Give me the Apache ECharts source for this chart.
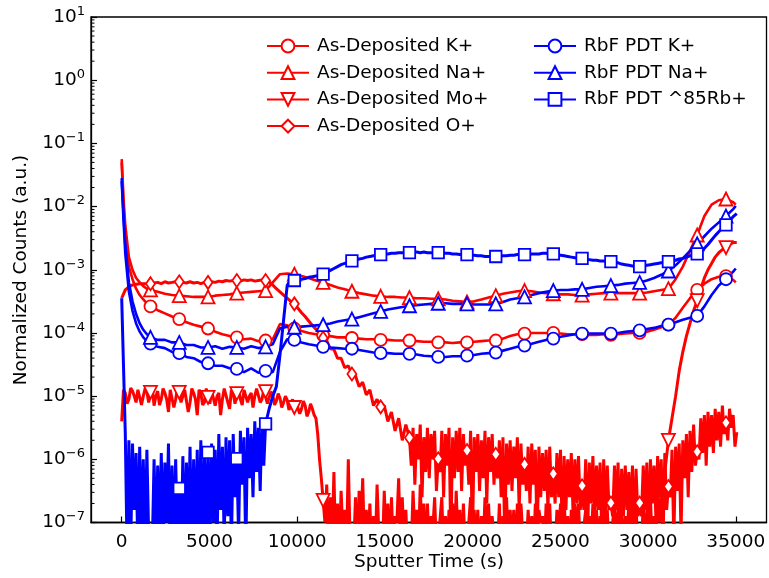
<!DOCTYPE html>
<html><head><meta charset="utf-8">
<script src="https://cdn.jsdelivr.net/npm/echarts@6/dist/echarts.min.js"></script>
<style>html,body{margin:0;padding:0;background:#fff}#c{width:769px;height:578px}</style>
</head><body><div id="c"></div>
<script>
// ---------- sampling times (s) ----------
const tSmoothHead = [0, 100, 205, 410, 615, 820, 1025, 1230, 1435];
const tSmoothTail = [35000];
const smoothStep = 410;   // regular part 1640 .. 34850
const noisyStep = 205;    // 0 .. 35055 (172 samples); "mid" samples sit half a step later
const markerEvery = 1640; // marker spacing (s)

const xTickValues = [0, 5000, 10000, 15000, 20000, 25000, 30000, 35000];
const yTickValues = [1e-7, 1e-6, 1e-5, 1e-4, 1e-3, 1e-2, 1e-1, 1, 10];

const seriesNames = ['As-Deposited K+', 'As-Deposited Na+', 'As-Deposited Mo+', 'As-Deposited O+',
                     'RbF PDT K+', 'RbF PDT Na+', 'RbF PDT ^85Rb+'];

// ---------- values: log10(normalized counts) ----------
// smooth series (92 samples on the smooth time grid)
const asDepK = [-1.3,-2.0,-2.5,-2.95,-3.15,-3.3,-3.4,-3.47,-3.53,
 -3.58,-3.64,-3.69,-3.74, -3.78,-3.83,-3.87,-3.90, -3.93,-3.98,-4.02,-4.05, -4.07,-4.10,-4.09,-4.13,
 -4.12,-4.10,-3.86,-3.88, -3.93,-3.97,-4.00,-4.02, -4.04,-4.05,-4.07,-4.07, -4.08,-4.09,-4.10,-4.10,
 -4.11,-4.11,-4.12,-4.12, -4.12,-4.13,-4.14,-4.14, -4.15,-4.15,-4.16,-4.15, -4.15,-4.14,-4.13,-4.12,
 -4.12,-4.09,-4.05,-4.02, -4.01,-4.00,-4.00,-4.00, -4.00,-4.01,-4.02,-4.02, -4.02,-4.03,-4.03,-4.02,
 -4.03,-4.02,-4.01,-4.00, -4.00,-3.98,-3.95,-3.91, -3.87,-3.76,-3.60,-3.45, -3.32,-3.22,-3.15,-3.11,
 -3.10,-3.16,-3.20];
const asDepNa = [-1.25,-1.85,-2.3,-2.8,-3.0,-3.13,-3.2,-3.26,-3.3,
 -3.32,-3.35,-3.38,-3.40, -3.41,-3.42,-3.43,-3.43, -3.43,-3.41,-3.40,-3.39, -3.37,-3.36,-3.35,-3.34,
 -3.33,-3.20,-3.07,-3.06, -3.07,-3.10,-3.13,-3.17, -3.20,-3.24,-3.28,-3.31, -3.34,-3.37,-3.39,-3.41,
 -3.42,-3.43,-3.43,-3.44, -3.44,-3.45,-3.45,-3.46, -3.46,-3.47,-3.49,-3.50, -3.51,-3.50,-3.47,-3.44,
 -3.41,-3.38,-3.36,-3.34, -3.33,-3.34,-3.36,-3.37, -3.38,-3.39,-3.39,-3.40, -3.40,-3.39,-3.38,-3.37,
 -3.37,-3.37,-3.37,-3.37, -3.37,-3.36,-3.34,-3.32, -3.30,-3.15,-2.95,-2.70, -2.45,-2.15,-1.97,-1.90,
 -1.88,-1.93,-1.97];
const rbfNa = [-1.55,-2.1,-2.6,-3.2,-3.5,-3.7,-3.85,-3.95,-4.02,
 -4.07,-4.11,-4.11,-4.15, -4.15,-4.19,-4.19,-4.23, -4.23,-4.21,-4.25,-4.22, -4.23,-4.25,-4.21,-4.24,
 -4.22,-4.18,-3.93,-3.90, -3.91,-3.90,-3.89,-3.88, -3.87,-3.85,-3.82,-3.80, -3.78,-3.75,-3.72,-3.69,
 -3.66,-3.63,-3.61,-3.59, -3.57,-3.56,-3.55,-3.54, -3.53,-3.53,-3.54,-3.54, -3.54,-3.55,-3.55,-3.55,
 -3.54,-3.51,-3.47,-3.45, -3.43,-3.40,-3.37,-3.35, -3.33,-3.32,-3.32,-3.31, -3.31,-3.29,-3.27,-3.26,
 -3.25,-3.24,-3.22,-3.21, -3.20,-3.17,-3.13,-3.08, -3.02,-2.93,-2.82,-2.70, -2.59,-2.47,-2.35,-2.25,
 -2.15,-2.04,-1.99];
const rbfK = [-1.6,-2.2,-2.75,-3.35,-3.65,-3.85,-3.98,-4.07,-4.13,
 -4.17,-4.22,-4.24,-4.30, -4.32,-4.38,-4.40,-4.46, -4.48,-4.52,-4.52,-4.56, -4.57,-4.62,-4.56,-4.63,
 -4.60,-4.62,-4.30,-4.10, -4.11,-4.15,-4.18,-4.20, -4.22,-4.23,-4.24,-4.25, -4.25,-4.27,-4.29,-4.31,
 -4.32,-4.32,-4.33,-4.33, -4.33,-4.34,-4.36,-4.37, -4.38,-4.38,-4.37,-4.37, -4.36,-4.35,-4.33,-4.32,
 -4.31,-4.28,-4.25,-4.22, -4.20,-4.17,-4.14,-4.11, -4.09,-4.06,-4.04,-4.02, -4.01,-4.01,-4.01,-4.01,
 -4.01,-4.00,-3.98,-3.97, -3.96,-3.94,-3.92,-3.89, -3.87,-3.83,-3.79,-3.76, -3.73,-3.58,-3.40,-3.25,
 -3.15,-3.03,-2.98];

// noisy series (172 samples, every 205 s)
const asDepMo = [
 -5.4,-4.95,-5.05,-4.92,-5.1,-4.9,-5.0,-4.93,
 -4.94,-5.15,-4.92,-5.05,-4.95,-5.25,-4.93,-5.05,
 -4.94,-5.0,-4.9,-5.1,-4.95,-5.3,-4.95,-5.1,
 -5.02,-4.92,-5.15,-4.95,-5.05,-4.9,-5.2,-4.95,
 -4.96,-5.05,-4.9,-5.1,-4.95,-5.0,-4.9,-5.05,
 -4.93,-5.02,-4.98,-5.08,-5.03,-5.1,-5.06,-5.15,
 -5.18,-5.12,-5.2,-5.15,-5.25,-5.2,-5.35,-6.0,
 -6.65,-6.4,-6.6,-6.2,-6.7,-6.5,-6.8,-6.0,
 -7.3,-6.6,-6.5,-6.3,-6.8,-6.7,-6.9,-6.4,
 -7.3,-6.5,-6.7,-6.6,-6.9,-6.3,-6.6,-6.8,
 -7.3,-6.5,-6.8,-6.4,-6.7,-6.7,-6.9,-6.6,
 -7.3,-6.6,-6.9,-6.8,-6.7,-6.5,-6.8,-6.7,
 -7.3,-6.6,-6.8,-6.8,-6.9,-6.6,-6.7,-6.9,
 -7.3,-6.7,-6.9,-6.6,-6.8,-6.8,-6.7,-6.7,
 -7.3,-6.8,-6.9,-6.7,-6.8,-6.9,-6.7,-6.7,
 -7.3,-6.8,-6.7,-6.6,-6.9,-6.8,-6.7,-6.7,
 -7.3,-6.8,-6.9,-6.7,-6.8,-6.9,-6.7,-6.8,
 -7.3,-6.7,-6.8,-6.8,-6.9,-6.6,-6.8,-6.8,
 -7.3,-6.7,-6.8,-6.6,-6.9,-6.5,-6.6,-6.2,
 -5.70,-5.35,-5.0,-4.6,-4.3,-4.05,-3.85,-3.65,
 -3.49,-3.3,-3.13,-3.0,-2.9,-2.8,-2.73,-2.68,
 -2.65,-2.6,-2.57,-2.57];
// half-step samples of Mo+ (t = 205*i + 102.5, i = 0..149)
const asDepMoMid = [
 -4.9,-5.12,-4.87,-5.0,-4.9,-5.14,-4.88,-5.1,
 -4.88,-5.0,-5.14,-4.88,-5.05,-4.9,-5.18,-4.88,
 -5.1,-4.9,-5.25,-4.88,-5.05,-4.9,-5.14,-4.88,
 -5.12,-4.93,-5.0,-5.3,-4.88,-5.1,-4.9,-5.12,
 -4.88,-5.14,-4.93,-5.0,-5.18,-4.88,-5.1,-4.9,
 -5.12,-4.93,-5.14,-4.96,-5.18,-5.0,-5.22,-5.05,
 -5.1,-5.28,-5.08,-5.32,-5.12,-5.3,-5.6,-6.3,
 -7.0,-7.4,-7.3,-7.5,-7.4,-7.2,-7.4,-7.3,
 -7.4,-7.5,-7.1,-7.4,-7.3,-7.5,-7.4,-7.2,
 -7.4,-7.3,-7.5,-7.4,-7.0,-7.4,-7.3,-7.5,
 -7.4,-7.2,-7.4,-7.3,-7.5,-7.4,-7.1,-7.4,
 -7.3,-7.5,-7.4,-7.2,-7.4,-7.3,-7.5,-7.4,
 -7.0,-7.4,-7.3,-7.5,-7.4,-7.2,-7.4,-7.3,
 -7.4,-7.5,-7.1,-7.4,-7.3,-7.5,-7.4,-7.2,
 -7.4,-7.3,-7.5,-7.4,-7.0,-7.4,-7.3,-7.5,
 -7.4,-7.2,-7.4,-7.3,-7.5,-7.4,-7.1,-7.4,
 -7.3,-7.5,-7.4,-7.2,-7.4,-7.3,-7.5,-7.4,
 -7.0,-7.4,-7.3,-7.5,-7.4,-7.2,-7.4,-7.3,
 -7.4,-7.5,-7.1,-7.4,-7.3,-7.0];
const asDepMoMidStart = 0;

const asDepO = [
 -3.45,-3.32,-3.27,-3.24,-3.23,-3.22,-3.22,-3.22,
 -3.22,-3.21,-3.20,-3.22,-3.19,-3.21,-3.20,-3.19,
 -3.19,-3.20,-3.21,-3.19,-3.21,-3.20,-3.22,-3.20,
 -3.20,-3.19,-3.20,-3.18,-3.19,-3.17,-3.18,-3.17,
 -3.17,-3.18,-3.16,-3.17,-3.16,-3.18,-3.17,-3.16,
 -3.17,-3.19,-3.24,-3.30,-3.35,-3.40,-3.45,-3.50,
 -3.54,-3.61,-3.68,-3.74,-3.81,-3.88,-3.94,-4.01,
 -4.08,-4.12,-4.25,-4.26,-4.40,-4.40,-4.55,-4.52,
 -4.65,-4.68,-4.85,-4.78,-4.98,-4.90,-5.15,-5.05,
 -5.17,-5.15,-5.4,-5.25,-5.55,-5.35,-5.7,-5.45,
 -5.66,-5.5,-5.6,-5.45,-5.65,-5.5,-5.6,-5.55,
 -5.99,-5.55,-5.6,-5.5,-5.65,-5.55,-5.5,-5.6,
 -5.86,-5.55,-5.65,-5.6,-5.7,-5.55,-5.65,-5.6,
 -5.92,-5.7,-5.65,-5.75,-5.7,-5.8,-5.65,-5.75,
 -6.08,-5.8,-5.75,-5.85,-5.8,-5.9,-5.85,-5.8,
 -6.23,-5.9,-5.85,-5.95,-6.0,-5.9,-6.0,-5.95,
 -6.42,-6.0,-6.05,-5.95,-6.1,-6.05,-6.0,-6.1,
 -6.69,-6.1,-6.05,-6.15,-6.1,-6.2,-6.1,-6.15,
 -6.69,-6.1,-6.05,-6.0,-6.1,-5.95,-6.0,-5.9,
 -6.43,-5.85,-5.8,-5.75,-5.7,-5.6,-5.55,-5.45,
 -5.88,-5.35,-5.3,-5.25,-5.3,-5.2,-5.25,-5.15,
 -5.42,-5.2,-5.3,-5.57];
// half-step samples of O+ (i = 80..170)
const asDepOMid = [
 -6.1,-6.4,-6.0,-6.6,-6.2,-6.3,-6.0,-6.5,
 -6.2,-6.6,-6.1,-7.3,-6.3,-6.2,-6.5,-6.1,
 -6.4,-7.3,-6.2,-6.5,-6.3,-6.7,-6.2,-6.4,
 -6.3,-6.6,-7.3,-6.4,-6.5,-6.3,-6.8,-6.4,
 -6.5,-6.7,-6.4,-7.3,-6.6,-6.5,-6.8,-6.6,
 -6.7,-6.6,-7.3,-6.8,-6.6,-6.9,-6.7,-6.8,
 -6.8,-7.3,-6.7,-6.9,-6.8,-7.3,-6.9,-6.8,
 -6.9,-6.8,-7.3,-6.9,-6.8,-7.0,-7.3,-6.9,
 -6.9,-6.8,-7.3,-6.7,-6.9,-6.6,-7.3,-6.8,
 -6.6,-7.3,-6.5,-7.2,-6.3,-6.6,-6.2,-6.1,
 -6.0,-5.9,-6.1,-5.8,-5.9,-5.7,-5.8,-5.6,
 -5.7,-5.5,-5.8];
const asDepOMidStart = 80;

const rbfRb = [
 -3.45,-5.6,-5.7,-5.75,-5.9,-5.8,-6.0,-5.85,
 -7.3,-6.0,-6.1,-5.9,-6.05,-5.75,-6.1,-6.0,
 -6.46,-5.95,-6.05,-5.8,-6.0,-5.85,-5.7,-5.9,
 -5.89,-5.75,-5.85,-5.6,-5.8,-5.65,-5.7,-5.6,
 -5.99,-5.55,-5.65,-5.5,-5.6,-5.4,-5.5,-5.35,
 -5.44,-5.2,-5.0,-4.85,-4.35,-3.8,-3.25,-3.15,
 -3.17,-3.16,-3.15,-3.14,-3.12,-3.11,-3.10,-3.08,
 -3.07,-3.04,-3.01,-2.98,-2.95,-2.92,-2.90,-2.88,
 -2.86,-2.85,-2.83,-2.82,-2.80,-2.79,-2.78,-2.77,
 -2.76,-2.75,-2.75,-2.74,-2.74,-2.73,-2.73,-2.73,
 -2.73,-2.72,-2.72,-2.73,-2.72,-2.73,-2.73,-2.73,
 -2.73,-2.73,-2.74,-2.74,-2.75,-2.75,-2.76,-2.76,
 -2.76,-2.77,-2.77,-2.78,-2.78,-2.79,-2.79,-2.79,
 -2.79,-2.79,-2.78,-2.78,-2.77,-2.77,-2.76,-2.76,
 -2.76,-2.76,-2.75,-2.75,-2.75,-2.74,-2.74,-2.75,
 -2.75,-2.76,-2.77,-2.78,-2.79,-2.80,-2.81,-2.82,
 -2.82,-2.83,-2.84,-2.85,-2.85,-2.86,-2.86,-2.87,
 -2.87,-2.88,-2.89,-2.91,-2.92,-2.93,-2.94,-2.95,
 -2.95,-2.94,-2.93,-2.92,-2.91,-2.90,-2.89,-2.88,
 -2.87,-2.86,-2.85,-2.83,-2.82,-2.80,-2.78,-2.76,
 -2.75,-2.71,-2.66,-2.60,-2.53,-2.46,-2.40,-2.34,
 -2.29,-2.22,-2.16,-2.11];
// half-step samples of Rb+ (i = 1..39)
const rbfRbMid = [
 -7.5,-7.4,-6.8,-7.5,-7.3,-7.5,-7.2,-7.4,
 -7.5,-7.3,-7.4,-7.0,-7.5,-7.4,-7.3,-7.5,
 -7.4,-7.2,-7.5,-7.3,-7.4,-7.5,-7.1,-7.4,
 -7.0,-7.4,-6.8,-7.3,-6.9,-7.4,-6.6,-7.2,
 -6.4,-7.5,-6.3,-6.6,-6.2,-6.5,-6.1];
const rbfRbMidStart = 1;

// ---------- build ----------
const tSmooth = tSmoothHead.slice();
for (let t = 1640; t <= 34850; t += smoothStep) tSmooth.push(t);
tSmoothTail.forEach(t => tSmooth.push(t));

function smoothPoints(logs) {
  return tSmooth.map((t, i) => [t, logs[i]]);
}
function noisyPoints(logs, mid, midStart) {
  const pts = [];
  for (let i = 0; i < logs.length; i++) {
    pts.push([i * noisyStep, logs[i]]);
    const j = i - midStart;
    if (mid && j >= 0 && j < mid.length) pts.push([i * noisyStep + noisyStep / 2, mid[j]]);
  }
  return pts;
}

const RED = '#ff0000', BLUE = '#0000ff';
const FONT = 'DejaVu Sans';
const XMIN = -1750, XMAX = 36750;

function mk(name, pts, color, symbol, size, rotate, width) {
  const data = pts.map(p => {
    const item = { value: [p[0], Math.pow(10, p[1])] };
    if (!(p[0] > 0 && p[0] % markerEvery === 0)) item.symbol = 'none';
    return item;
  });
  return {
    type: 'line', name, data, symbol, symbolSize: size, symbolRotate: rotate || 0,
    showSymbol: true, clip: true, animation: false,
    lineStyle: { color, width: width || 2.6 },
    itemStyle: { color: '#fff', borderColor: color, borderWidth: 1.8 },
    emphasis: { disabled: true }
  };
}

const minorVals = [];
for (let e = -7; e <= 0; e++) for (let m = 2; m <= 9; m++) minorVals.push([XMIN, m * Math.pow(10, e)]);

const series = [
  mk(seriesNames[0], smoothPoints(asDepK), RED, 'circle', 12),
  mk(seriesNames[1], smoothPoints(asDepNa), RED, 'triangle', 13),
  mk(seriesNames[2], noisyPoints(asDepMo, asDepMoMid, asDepMoMidStart), RED, 'triangle', 13, 180, 3),
  mk(seriesNames[3], noisyPoints(asDepO, asDepOMid, asDepOMidStart), RED, 'diamond', [9, 13], 0, 3),
  mk(seriesNames[4], smoothPoints(rbfK), BLUE, 'circle', 12),
  mk(seriesNames[5], smoothPoints(rbfNa), BLUE, 'triangle', 13),
  mk(seriesNames[6], noisyPoints(rbfRb, rbfRbMid, rbfRbMidStart), BLUE, 'rect', 11.5, 0, 3),
  {
    type: 'custom', name: 'minor', data: minorVals, silent: true, animation: false, clip: false, z: 5,
    renderItem: function (params, api) {
      const p = api.coord([api.value(0), api.value(1)]);
      return { type: 'line', shape: { x1: p[0], y1: p[1], x2: p[0] + 3.5, y2: p[1] },
               style: { stroke: '#000', lineWidth: 1 } };
    }
  }
];

const legendCommon = {
  orient: 'vertical', itemWidth: 42, itemHeight: 16, itemGap: 6.7, top: 31,
  selectedMode: false,
  textStyle: { fontFamily: FONT, fontSize: 18.5, color: '#000', lineHeight: 20, padding: [0, 0, 0, 3] }
};

const chart = echarts.init(document.getElementById('c'), null, { renderer: 'canvas' });
chart.setOption({
  animation: false,
  backgroundColor: '#fff',
  grid: { left: 91, right: 2.5, top: 17, bottom: 55.5, show: true, borderColor: '#000', borderWidth: 1.3, backgroundColor: 'transparent' },
  legend: [
    Object.assign({}, legendCommon, { left: 261, data: seriesNames.slice(0, 4) }),
    Object.assign({}, legendCommon, { left: 528, data: seriesNames.slice(4) })
  ],
  xAxis: {
    type: 'value', min: XMIN, max: XMAX,
    axisLine: { show: true, onZero: false, lineStyle: { color: '#000', width: 1.3 } },
    axisTick: { show: true, inside: true, length: 6, customValues: xTickValues, lineStyle: { color: '#000', width: 1.2 } },
    axisLabel: { customValues: xTickValues, fontFamily: FONT, fontSize: 18.5, color: '#000', margin: 10,
                 formatter: function (v) { return String(v); } },
    splitLine: { show: false }
  },
  yAxis: {
    type: 'log', logBase: 10, min: 1e-7, max: 10, splitNumber: 8,
    axisLine: { show: true, onZero: false, lineStyle: { color: '#000', width: 1.3 } },
    axisTick: { show: true, inside: true, length: 6, customValues: yTickValues, lineStyle: { color: '#000', width: 1.2 } },
    axisLabel: {
      customValues: yTickValues, margin: 6,
      formatter: function (v) {
        const e = Math.round(Math.log10(v));
        return '{b|10}{s|' + (e < 0 ? '\u2212' + (-e) : String(e)) + '}';
      },
      rich: {
        b: { fontFamily: FONT, fontSize: 18.5, color: '#000', lineHeight: 24 },
        s: { fontFamily: FONT, fontSize: 13, color: '#000', lineHeight: 12, verticalAlign: 'top' }
      }
    },
    splitLine: { show: false }
  },
  graphic: [
    { type: 'text', x: 429, y: 562, style: { text: 'Sputter Time (s)', font: '18.5px "DejaVu Sans"', fill: '#000', align: 'center', verticalAlign: 'middle' } },
    { type: 'text', x: 21, y: 270, rotation: Math.PI / 2, style: { text: 'Normalized Counts (a.u.)', font: '18.5px "DejaVu Sans"', fill: '#000', align: 'center', verticalAlign: 'middle' } }
  ],
  series
});
</script></body></html>
